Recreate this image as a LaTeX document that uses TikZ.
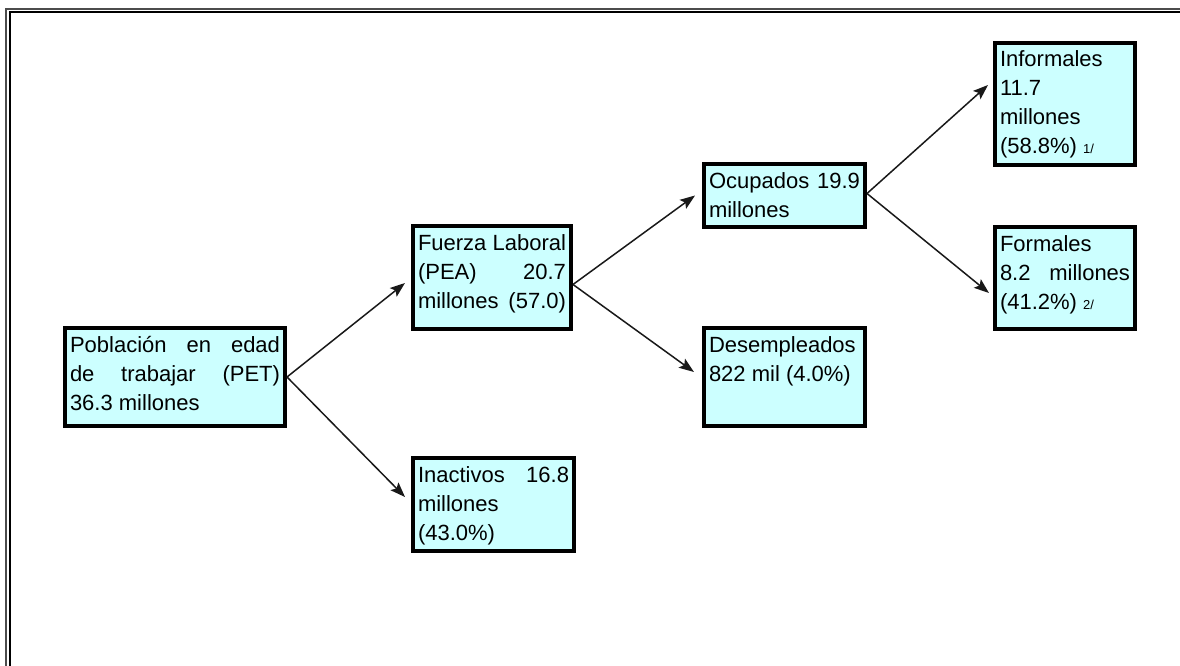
\documentclass[tikz,border=0pt]{standalone}
\usepackage{fontspec}
\setmainfont{Liberation Sans}
\usetikzlibrary{arrows.meta}
\definecolor{boxfill}{RGB}{204,255,255}
\newcommand{\bx}[3]{\parbox[c][#2][t]{#1}{\raggedright\rule{0pt}{24pt}#3}}
\newcommand{\fnm}[1]{{\fontsize{13}{13}\selectfont #1}}
\tikzset{
  box/.style={draw=black, line width=4pt, fill=boxfill, anchor=north west,
    outer sep=2pt, inner xsep=5pt, inner ysep=0pt,
    font=\fontsize{22}{29}\selectfont},
  conn/.style={draw=black!90, line width=1.5pt,
    -{Stealth[length=15pt,width=11pt,inset=3pt]}},
}
\begin{document}
\begin{tikzpicture}[x=1pt,y=-1pt]
\useasboundingbox (0,0) rectangle (1180,666);
\fill[white] (0,0) rectangle (1180,666);
\begin{scope}
  \clip (0,0) rectangle (1180,666);
  \draw[gray!60!black, line width=2.5pt] (6,9) rectangle (1300,900);
  \draw[black, line width=2pt] (10,12.5) rectangle (1300,900);
\end{scope}

\node[box] (pet) at (63,326) {\bx{210pt}{98pt}{Población\hfill en\hfill edad\\ de\hfill trabajar\hfill (PET)\\ 36.3 millones}};
\node[box] (fza) at (411,224) {\bx{148pt}{103pt}{Fuerza\hfill Laboral\\ (PEA)\hfill 20.7\\ millones\hfill (57.0)}};
\node[box] (ina) at (411,456) {\bx{151pt}{93pt}{Inactivos\hfill 16.8\\ millones\\ (43.0\%)}};
\node[box] (ocu) at (702,162) {\bx{151pt}{63pt}{Ocupados\hfill 19.9\\ millones}};
\node[box] (des) at (702,326) {\bx{151pt}{98pt}{Desempleados\\ 822 mil (4.0\%)}};
\node[box] (inf) at (993,41) {\bx{130pt}{122pt}{Informales\\ 11.7\\ millones\\ (58.8\%) \fnm{1/}}};
\node[box] (for) at (993,225) {\bx{130pt}{102pt}{Formales\\ 8.2\hfill millones\\ (41.2\%) \fnm{2/}}};

\draw[conn] (pet.east) -- ([xshift=-6pt,yshift=-5.5pt]fza.west);
\draw[conn] (pet.east) -- ([xshift=-6pt,yshift=7.5pt]ina.west);
\draw[conn] ([yshift=-7pt]fza.east) -- ([xshift=-7pt]ocu.west);
\draw[conn] ([yshift=-7pt]fza.east) -- ([xshift=-8pt,yshift=5pt]des.west);
\draw[conn] ([yshift=2pt]ocu.east) -- ([xshift=-5pt,yshift=19pt]inf.west);
\draw[conn] ([yshift=2pt]ocu.east) -- ([xshift=-4pt,yshift=-15pt]for.west);
\end{tikzpicture}
\end{document}
